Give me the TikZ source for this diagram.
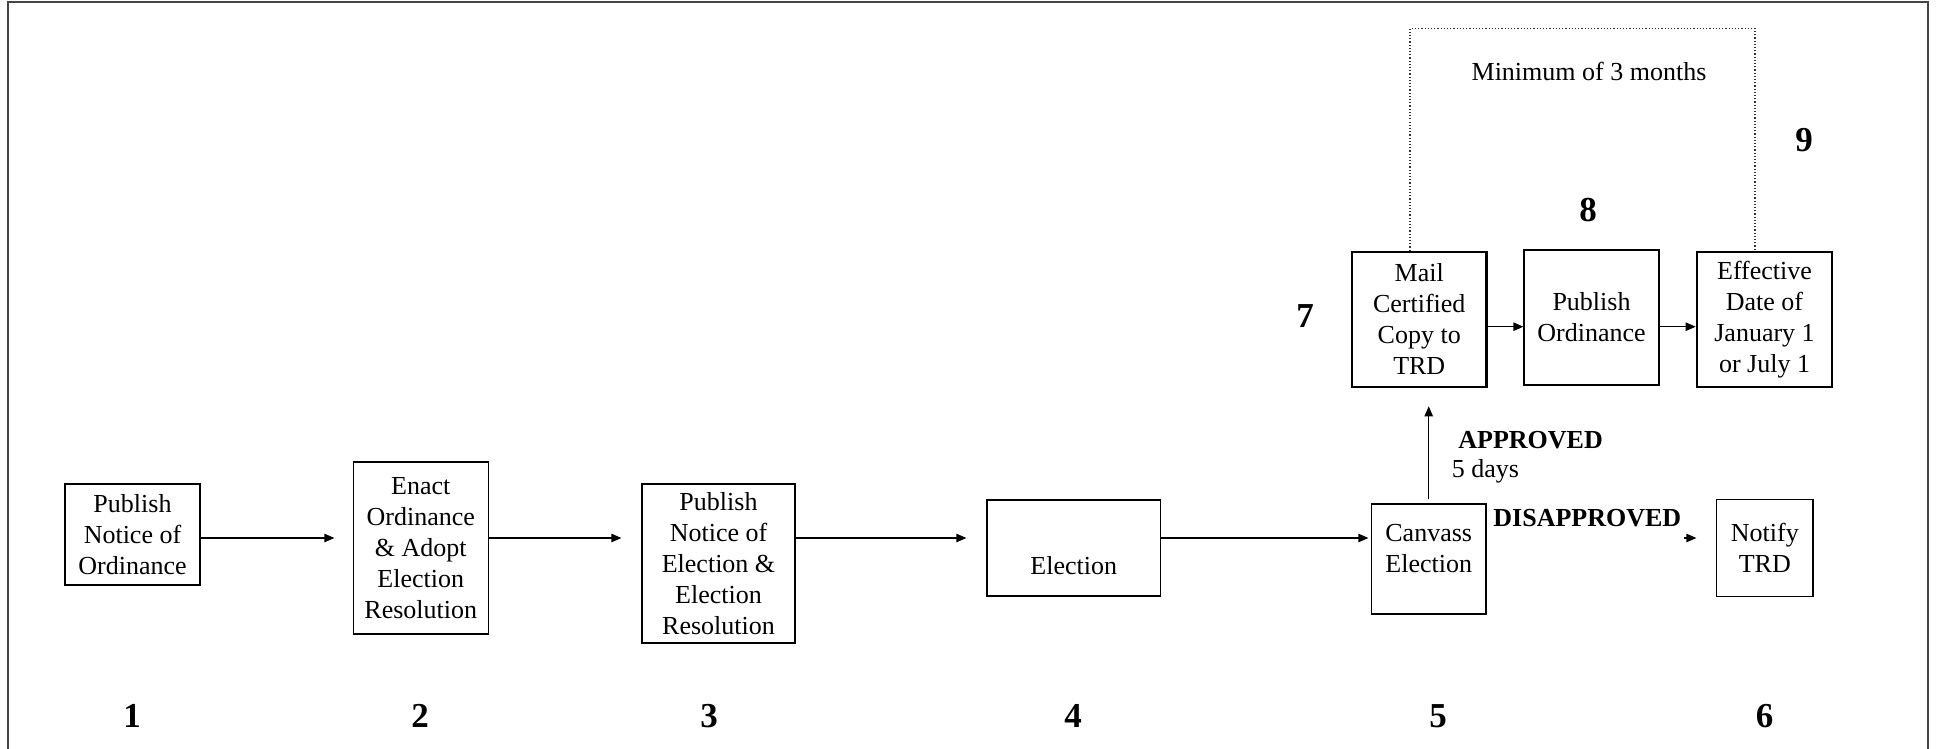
\documentclass[tikz,border=0pt]{standalone}
\usepackage{fontspec}
\setmainfont{Liberation Serif}
\usetikzlibrary{arrows.meta}
\definecolor{framegray}{HTML}{454545}
\begin{document}
\begin{tikzpicture}[x=0.5pt,y=-0.5pt,
  box/.style={draw, line width=0.6pt, inner sep=0pt, align=center,
    font=\fontsize{13}{15.5}\selectfont},
  thickbox/.style={box, line width=1.3pt},
  txt/.style={inner sep=0pt, align=center, font=\fontsize{13}{15.5}\selectfont},
  btxt/.style={inner sep=0pt, font=\fontsize{13}{15.5}\selectfont\bfseries},
  num/.style={inner sep=0pt, font=\fontsize{17.5}{20}\selectfont\bfseries},
  arr/.style={line width=0.6pt, -{Triangle[length=5pt,width=4.2pt]}},
]
\useasboundingbox (0,0) rectangle (1937,749);
% frame (left, top, right)
\draw[framegray, line width=1pt] (8,749) -- (8,2) -- (1928,2) -- (1928,749);

% bottom row
\node[box, minimum width=67.5pt, minimum height=50.5pt] (b1) at (132.5,534.5)
  {Publish\\Notice of\\Ordinance};
\node[box, minimum width=67.3pt, minimum height=86pt] (b2) at (420.8,548)
  {Enact\\Ordinance\\\& Adopt\\Election\\Resolution};
\node[box, minimum width=76.5pt, minimum height=79.5pt] (b3) at (718.5,563.5)
  {Publish\\Notice of\\Election \&\\Election\\Resolution};
\node[box, minimum width=86.7pt, minimum height=48pt] (b4) at (1073.7,548) {};
\node[txt] (b4t) at (1073.7,566) {Election};
\node[box, minimum width=57.3pt, minimum height=55pt] (b5) at (1428.7,559) {};
\node[txt] (b5t) at (1428.7,549) {Canvass\\Election};
\node[box, minimum width=48.2pt, minimum height=48.3pt] (b6) at (1764.8,547.8)
  {Notify\\TRD};

% top row
\node[thickbox, minimum width=67.25pt, minimum height=67.5pt] (b7) at (1419.25,319.5)
  {Mail\\Certified\\Copy to\\TRD};
\node[box, minimum width=67.5pt, minimum height=67.5pt] (b8) at (1591.5,317.5)
  {Publish\\Ordinance};
\node[thickbox, minimum width=67.5pt, minimum height=67.5pt] (b9) at (1764.5,319.5)
  {Effective\\Date of\\January 1\\or July 1};

% connectors
\coordinate (row) at (0,538);
\draw[arr, shorten >=9.25pt] (b1.east |- row) -- (b2.west |- row);
\draw[arr, shorten >=10pt] (b2.east |- row) -- (b3.west |- row);
\draw[arr, shorten >=10pt] (b3.east |- row) -- (b4.west |- row);
\draw[arr, shorten >=1.2pt] (b4.east |- row) -- (b5.west |- row);
\draw[arr, shorten >=9.8pt] ([xshift=-15.8pt]b6.west |- row) -- (b6.west |- row);
\draw[arr, shorten <=2pt, shorten >=9pt] (b5.north) -- (b5.north |- b7.south);
\draw[arr] ([yshift=-3.6pt]b7.east) -- ([yshift=-3.6pt]b7.east -| b8.west);
\draw[arr] ([yshift=-3.6pt]b7.east -| b8.east) -- ([yshift=-3.6pt]b7.east -| b9.west);

% dotted bracket
\coordinate (dtop) at (0,28.5);
\draw[densely dotted, line width=0.6pt, black!80]
  ([xshift=-4.6pt]b7.north) -- ([xshift=-4.6pt]b7.north |- dtop)
  -- ([xshift=-4.75pt]b9.north |- dtop) -- ([xshift=-4.75pt]b9.north);

% labels
\node[txt] (minlbl) at (1589,71) {Minimum of 3 months};
\node[btxt, anchor=west] (appr) at (1458,440) {APPROVED};
\node[txt, anchor=west] (days) at (1451.5,471) {5 days};
\node[btxt, anchor=west] (disappr) at (1493,518) {DISAPPROVED};

% step numbers
\node[num] (n1) at (132,716) {1};
\node[num] (n2) at (420,716) {2};
\node[num] (n3) at (709,716) {3};
\node[num] (n4) at (1073,716) {4};
\node[num] (n5) at (1438,716) {5};
\node[num] (n6) at (1764.5,716) {6};
\node[num] (n7) at (1305,316) {7};
\node[num] (n8) at (1588,210) {8};
\node[num] (n9) at (1804,140) {9};
\end{tikzpicture}
\end{document}
